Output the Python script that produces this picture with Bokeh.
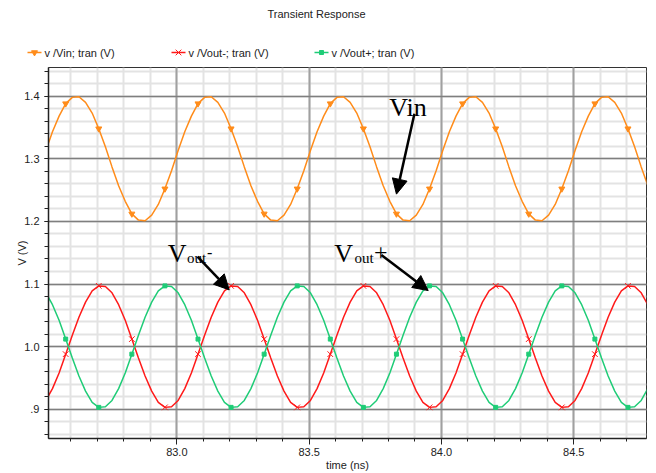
from bokeh.plotting import figure
from bokeh.layouts import column
from bokeh.core.properties import value
from bokeh.models import (Range1d, FixedTicker, Label, Arrow, NormalHead,
                          ColumnDataSource, CDSView, IndexFilter, Grid, PrintfTickFormatter)
from bokeh.embed import file_html
from bokeh.resources import INLINE

# ---------------- data ----------------
time_ns = [
    82.505, 82.530, 82.555, 82.580, 82.605, 82.630, 82.655, 82.680, 82.705, 82.730,
    82.755, 82.780, 82.805, 82.830, 82.855, 82.880, 82.905, 82.930, 82.955, 82.980,
    83.005, 83.030, 83.055, 83.080, 83.105, 83.130, 83.155, 83.180, 83.205, 83.230,
    83.255, 83.280, 83.305, 83.330, 83.355, 83.380, 83.405, 83.430, 83.455, 83.480,
    83.505, 83.530, 83.555, 83.580, 83.605, 83.630, 83.655, 83.680, 83.705, 83.730,
    83.755, 83.780, 83.805, 83.830, 83.855, 83.880, 83.905, 83.930, 83.955, 83.980,
    84.005, 84.030, 84.055, 84.080, 84.105, 84.130, 84.155, 84.180, 84.205, 84.230,
    84.255, 84.280, 84.305, 84.330, 84.355, 84.380, 84.405, 84.430, 84.455, 84.480,
    84.505, 84.530, 84.555, 84.580, 84.605, 84.630, 84.655, 84.680, 84.705, 84.730,
    84.755, 84.780, 84.805,
]

v_in = [
    1.313, 1.343, 1.368, 1.388, 1.398, 1.399, 1.390, 1.373, 1.348, 1.319,
    1.287, 1.257, 1.232, 1.212, 1.202, 1.201, 1.210, 1.227, 1.252, 1.281,
    1.313, 1.343, 1.368, 1.388, 1.398, 1.399, 1.390, 1.373, 1.348, 1.319,
    1.287, 1.257, 1.232, 1.212, 1.202, 1.201, 1.210, 1.227, 1.252, 1.281,
    1.313, 1.343, 1.368, 1.388, 1.398, 1.399, 1.390, 1.373, 1.348, 1.319,
    1.287, 1.257, 1.232, 1.212, 1.202, 1.201, 1.210, 1.227, 1.252, 1.281,
    1.313, 1.343, 1.368, 1.388, 1.398, 1.399, 1.390, 1.373, 1.348, 1.319,
    1.287, 1.257, 1.232, 1.212, 1.202, 1.201, 1.210, 1.227, 1.252, 1.281,
    1.313, 1.343, 1.368, 1.388, 1.398, 1.399, 1.390, 1.373, 1.348, 1.319,
    1.287, 1.257, 1.232,
]

v_out_minus = [
    0.914, 0.933, 0.958, 0.988, 1.018, 1.047, 1.071, 1.089, 1.097, 1.096,
    1.086, 1.067, 1.042, 1.012, 0.982, 0.953, 0.929, 0.911, 0.903, 0.904,
    0.914, 0.933, 0.958, 0.988, 1.018, 1.047, 1.071, 1.089, 1.097, 1.096,
    1.086, 1.067, 1.042, 1.012, 0.982, 0.953, 0.929, 0.911, 0.903, 0.904,
    0.914, 0.933, 0.958, 0.988, 1.018, 1.047, 1.071, 1.089, 1.097, 1.096,
    1.086, 1.067, 1.042, 1.012, 0.982, 0.953, 0.929, 0.911, 0.903, 0.904,
    0.914, 0.933, 0.958, 0.988, 1.018, 1.047, 1.071, 1.089, 1.097, 1.096,
    1.086, 1.067, 1.042, 1.012, 0.982, 0.953, 0.929, 0.911, 0.903, 0.904,
    0.914, 0.933, 0.958, 0.988, 1.018, 1.047, 1.071, 1.089, 1.097, 1.096,
    1.086, 1.067, 1.042,
]

v_out_plus = [
    1.086, 1.067, 1.042, 1.012, 0.982, 0.953, 0.929, 0.911, 0.903, 0.904,
    0.914, 0.933, 0.958, 0.988, 1.018, 1.047, 1.071, 1.089, 1.097, 1.096,
    1.086, 1.067, 1.042, 1.012, 0.982, 0.953, 0.929, 0.911, 0.903, 0.904,
    0.914, 0.933, 0.958, 0.988, 1.018, 1.047, 1.071, 1.089, 1.097, 1.096,
    1.086, 1.067, 1.042, 1.012, 0.982, 0.953, 0.929, 0.911, 0.903, 0.904,
    0.914, 0.933, 0.958, 0.988, 1.018, 1.047, 1.071, 1.089, 1.097, 1.096,
    1.086, 1.067, 1.042, 1.012, 0.982, 0.953, 0.929, 0.911, 0.903, 0.904,
    0.914, 0.933, 0.958, 0.988, 1.018, 1.047, 1.071, 1.089, 1.097, 1.096,
    1.086, 1.067, 1.042, 1.012, 0.982, 0.953, 0.929, 0.911, 0.903, 0.904,
    0.914, 0.933, 0.958,
]

series_labels = ["v /Vin; tran (V)", "v /Vout-; tran (V)", "v /Vout+; tran (V)"]
chart_title = "Transient Response"

x_major_ticks = [83.0, 83.5, 84.0, 84.5]
x_minor_ticks = [82.6, 82.7, 82.8, 82.9, 83.0, 83.1, 83.2, 83.3, 83.4, 83.5, 83.6,
                 83.7, 83.8, 83.9, 84.0, 84.1, 84.2, 84.3, 84.4, 84.5, 84.6, 84.7]
y_major_ticks = [0.9, 1.0, 1.1, 1.2, 1.3, 1.4]
y_minor_ticks = [0.86, 0.88, 0.90, 0.92, 0.94, 0.96, 0.98, 1.00, 1.02, 1.04, 1.06,
                 1.08, 1.10, 1.12, 1.14, 1.16, 1.18, 1.20, 1.22, 1.24, 1.26, 1.28,
                 1.30, 1.32, 1.34, 1.36, 1.38, 1.40, 1.42, 1.44]
y_label_overrides = {0.9: ".9"}

# ---------------- styling ----------------
ORANGE = "#ff8c1a"
RED = "#ff1a1a"
GREEN = "#1fcc77"
COLORS = [ORANGE, RED, GREEN]
MARKERS = ["inverted_triangle", "x", "square"]
MSIZES = [6, 8, 4]
SANS = "Liberation Sans"
SERIF = "Liberation Serif"
TXT = "#222222"

# ---------------- header: title + legend (pixel coordinates) ----------------
HEAD_H = 66
LEG_X = [27, 171, 314]     # left edge of each legend swatch
LEG_Y = 14                 # from header bottom
SW = 14                    # swatch width

head = figure(width=656, height=HEAD_H, x_range=Range1d(0, 656), y_range=Range1d(0, HEAD_H),
              output_backend="svg", toolbar_location=None, x_axis_type=None, y_axis_type=None,
              min_border=0, frame_align=False)
head.outline_line_color = None
head.background_fill_color = "white"
head.border_fill_color = "white"
head.add_layout(Label(x=316, y=HEAD_H - 13, text=chart_title, text_align="center",
                      text_baseline="middle", text_font=SANS, text_font_size="11px",
                      text_color=TXT))
leg_src = ColumnDataSource(dict(
    x0=LEG_X, x1=[x + SW for x in LEG_X], xm=[x + SW / 2 for x in LEG_X],
    xt=[x + SW + 3 for x in LEG_X], y=[LEG_Y] * 3,
    color=COLORS, marker=MARKERS, size=MSIZES, label=series_labels))
head.segment(x0="x0", y0="y", x1="x1", y1="y", source=leg_src, line_color="color",
             line_width=1.5)
head.scatter(x="xm", y="y", source=leg_src, marker="marker", size="size",
             line_color="color", fill_color="color")
head.text(x="xt", y="y", text="label", source=leg_src, text_baseline="middle",
          text_align="left", text_font=value(SANS), text_font_size=value("11px"),
          text_color=TXT)

# ---------------- main plot ----------------
p = figure(width=656, height=473 - HEAD_H,
           x_range=Range1d(82.515, 84.775), y_range=Range1d(0.8533, 1.4457),
           output_backend="svg", toolbar_location=None, frame_align=False,
           min_border_left=48, min_border_right=10, min_border_top=1, min_border_bottom=34,
           x_axis_label="time (ns)", y_axis_label="V (V)")
p.background_fill_color = "white"
p.border_fill_color = "white"
p.outline_line_color = "#333333"
p.outline_line_width = 1

xt = FixedTicker(ticks=x_major_ticks, minor_ticks=x_minor_ticks)
yt = FixedTicker(ticks=y_major_ticks, minor_ticks=y_minor_ticks)
p.xaxis.ticker = xt
p.yaxis.ticker = yt
p.xaxis.formatter = PrintfTickFormatter(format="%.1f")
p.yaxis.formatter = PrintfTickFormatter(format="%.1f")
p.yaxis.major_label_overrides = y_label_overrides

# light minor grids first, dark major grids on top
p.xgrid.ticker = xt
p.ygrid.ticker = yt
for g in (p.xgrid[0], p.ygrid[0]):
    g.grid_line_color = None
    g.minor_grid_line_color = "#e3e3e3"
    g.minor_grid_line_width = 2
p.add_layout(Grid(dimension=0, ticker=xt, grid_line_color="#a0a0a0", grid_line_width=2))
p.add_layout(Grid(dimension=1, ticker=yt, grid_line_color="#7f7f7f", grid_line_width=1.5))

for ax in (p.xaxis[0], p.yaxis[0]):
    ax.axis_line_color = "#222222"
    ax.axis_line_width = 1.5
    ax.major_tick_line_color = "#222222"
    ax.minor_tick_line_color = "#222222"
    ax.major_tick_in = 0
    ax.minor_tick_in = 0
    ax.major_label_text_font = SANS
    ax.major_label_text_font_size = "11px"
    ax.major_label_text_color = TXT
    ax.axis_label_text_font = SANS
    ax.axis_label_text_font_size = "11px"
    ax.axis_label_text_font_style = "normal"
    ax.axis_label_text_color = TXT

p.xaxis.major_tick_out = 6
p.xaxis.minor_tick_out = 3
p.xaxis.major_label_standoff = 3
p.xaxis.axis_label_standoff = 0
p.yaxis.major_tick_out = 4
p.yaxis.minor_tick_out = 4
p.yaxis.major_label_standoff = 5
p.yaxis.axis_label_standoff = -7

# ---------------- series ----------------
src = ColumnDataSource(dict(t=time_ns, vin=v_in, vm=v_out_minus, vp=v_out_plus))
mark_view = CDSView(filter=IndexFilter(indices=list(range(3, len(time_ns), 5))))

for col_name, colr, mk, ms in zip(["vin", "vm", "vp"], COLORS, MARKERS, MSIZES):
    p.line("t", col_name, source=src, line_color=colr, line_width=1.5)
    p.scatter("t", col_name, source=src, view=mark_view, marker=mk, size=ms,
              line_color=colr, fill_color=colr, line_width=1)

# ---------------- annotations ----------------
def ann(x, y, text, size):
    p.add_layout(Label(x=x, y=y, text=text, text_align="left", text_baseline="alphabetic",
                       text_font=SERIF, text_font_size=size, text_color="black"))

ann(83.803, 1.382, "Vin", "26px")
ann(82.966, 1.1495, "V", "26px")
ann(83.038, 1.1416, "out", "15px")
ann(83.114, 1.1510, "-", "16px")
ann(83.595, 1.1495, "V", "26px")
ann(83.671, 1.1416, "out", "15px")
ann(83.745, 1.1500, "+", "24px")

def arrow(x0, y0, x1, y1):
    p.add_layout(Arrow(end=NormalHead(size=15, fill_color="black", line_color="black"),
                       x_start=x0, y_start=y0, x_end=x1, y_end=y1,
                       line_width=2.5, line_color="black"))

arrow(83.898, 1.372, 83.830, 1.2435)
arrow(83.078, 1.1436, 83.198, 1.0906)
arrow(83.773, 1.1463, 83.950, 1.0895)

open("out.html", "w").write(file_html(column(head, p, spacing=0), INLINE))
